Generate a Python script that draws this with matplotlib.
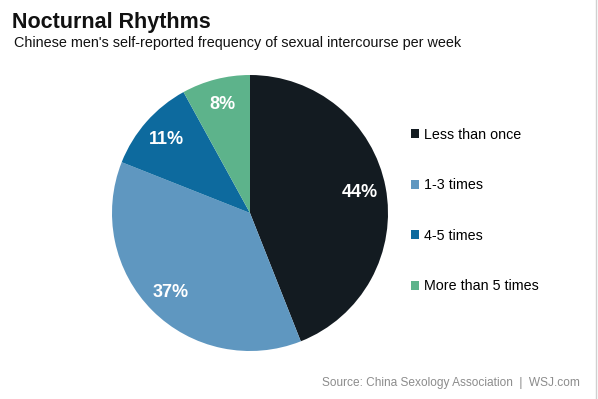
import matplotlib.pyplot as plt
from matplotlib.patches import Patch

plt.rcParams['font.family'] = ['Liberation Sans', 'DejaVu Sans']

# data
labels = ["Less than once", "1-3 times", "4-5 times", "More than 5 times"]
shares = [44, 37, 11, 8]
colors = ["#131b21", "#5f97c0", "#0d6a9e", "#5db38b"]

fig = plt.figure(figsize=(5.98, 3.99), dpi=100)

# pie axes, centred at roughly (250, 213) px with radius ~138 px
ax = fig.add_axes([(250 - 138) / 598, (399 - 213 - 138) / 399, 276 / 598, 276 / 399])
wedges, _, autotexts = ax.pie(
    shares, colors=colors, startangle=90, counterclock=False,
    autopct="%d%%", pctdistance=0.81, radius=1.0,
    wedgeprops=dict(linewidth=0),
    textprops=dict(color="white", fontsize=13, fontweight="bold"),
)
ax.set_xlim(-1, 1)
ax.set_ylim(-1, 1)
ax.set_aspect("equal")

# legend on the right
handles = [Patch(facecolor=c, edgecolor="none") for c in colors]
fig.legend(handles, labels, loc="upper left", bbox_to_anchor=(405 / 598, 1 - 122 / 399),
           frameon=False, fontsize=10.3, handlelength=0.6, handleheight=0.6,
           handletextpad=0.3, labelspacing=2.55, borderaxespad=0)

fig.text(12 / 598, 1 - 28 / 399, "Nocturnal Rhythms", fontsize=15.5, fontweight="bold",
         color="#111111", va="baseline")
fig.text(14 / 598, 1 - 47 / 399, "Chinese men's self-reported frequency of sexual intercourse per week",
         fontsize=10.35, color="#111111", va="baseline")
fig.text(580 / 598, 1 - 386 / 399, "Source: China Sexology Association  |  WSJ.com",
         fontsize=8.6, color="#8c8c8c", ha="right", va="baseline")

# thin grey edge on the right
fig.add_artist(plt.Line2D([596 / 598, 596 / 598], [0, 1], color="#d0d0d0", linewidth=1))

fig.savefig("out.png", dpi=100)
